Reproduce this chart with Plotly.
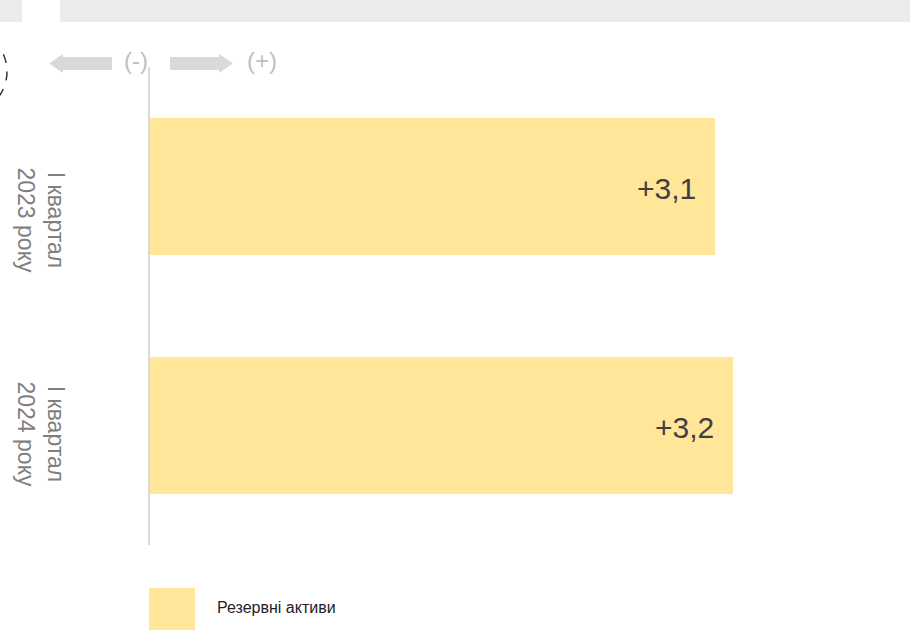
import plotly.graph_objects as go

categories = ["I квартал<br>2023 року", "I квартал<br>2024 року"]
values = [3.1, 3.2]
value_labels = ["+3,1", "+3,2"]
series_name = "Резервні активи"

BAR_COLOR = "#FFE699"
FONT = "Arial, Liberation Sans, sans-serif"

W, H = 910, 630
L, R, T, B = 150, 0, 67, 85
pw, ph = W - L - R, H - T - B


def px(x):
    return (x - L) / pw


def py(y):
    return (H - B - y) / ph


fig = go.Figure()
fig.add_trace(go.Bar(
    x=values, y=categories, orientation="h", width=0.573,
    marker=dict(color=BAR_COLOR, line=dict(width=0)),
    name=series_name, showlegend=False, hoverinfo="skip",
))

annotations = []
# value labels inside bars
for c, v, t in zip(categories, values, value_labels):
    annotations.append(dict(x=v, y=c, xref="x", yref="y", text=t, showarrow=False,
                            xanchor="right", yanchor="middle", xshift=-17, yshift=-2,
                            font=dict(family=FONT, size=30, color="#404040")))
# rotated category labels
for c, ys in zip(categories, [-33, -8]):
    annotations.append(dict(x=px(41), y=c, xref="paper", yref="y", text=c, showarrow=False,
                            textangle=90, xanchor="center", yanchor="middle", yshift=ys,
                            font=dict(family=FONT, size=23, color="#7f7f7f")))
# direction signs
annotations.append(dict(x=px(136), y=py(61), xref="paper", yref="paper", text="(-)", showarrow=False,
                        xanchor="center", yanchor="middle",
                        font=dict(family=FONT, size=24, color="#bfbfbf")))
annotations.append(dict(x=px(262), y=py(61), xref="paper", yref="paper", text="(+)", showarrow=False,
                        xanchor="center", yanchor="middle",
                        font=dict(family=FONT, size=24, color="#bfbfbf")))
# legend text
annotations.append(dict(x=px(215), y=py(607), xref="paper", yref="paper", text=series_name,
                        showarrow=False, xanchor="left", yanchor="middle",
                        font=dict(family=FONT, size=16, color="#222222")))

shapes = []
# header bands
shapes.append(dict(type="rect", xref="paper", yref="paper", x0=px(0), x1=px(22), y0=py(22), y1=py(0),
                   fillcolor="#ebebeb", line=dict(width=0), layer="below"))
shapes.append(dict(type="rect", xref="paper", yref="paper", x0=px(60), x1=px(910), y0=py(22), y1=py(0),
                   fillcolor="#ebebeb", line=dict(width=0), layer="below"))
# dashed partial circle
shapes.append(dict(type="circle", xref="paper", yref="paper", x0=px(-79), x1=px(7), y0=py(114.5), y1=py(28.5),
                   line=dict(color="#333333", width=1.5, dash="dash")))


def poly(points):
    return "M " + " L ".join(f"{px(x)},{py(y)}" for x, y in points) + " Z"


# left arrow
shapes.append(dict(type="path", xref="paper", yref="paper",
                   path=poly([(112, 57), (63, 57), (63, 54), (49, 63.5), (63, 73), (63, 70), (112, 70)]),
                   fillcolor="#d9d9d9", line=dict(width=0)))
# right arrow
shapes.append(dict(type="path", xref="paper", yref="paper",
                   path=poly([(170, 57), (219, 57), (219, 54), (233, 63.5), (219, 73), (219, 70), (170, 70)]),
                   fillcolor="#d9d9d9", line=dict(width=0)))
# legend swatch
shapes.append(dict(type="rect", xref="paper", yref="paper", x0=px(149), x1=px(195), y0=py(632), y1=py(588),
                   fillcolor=BAR_COLOR, line=dict(width=0)))

fig.update_layout(
    width=W, height=H,
    margin=dict(l=L, r=R, t=T, b=B, pad=0),
    paper_bgcolor="white", plot_bgcolor="white",
    showlegend=False,
    xaxis=dict(range=[0, pw / 182.25], visible=False, fixedrange=True),
    yaxis=dict(type="category", range=[1.5, -0.5], showticklabels=False, showgrid=False,
               showline=True, linecolor="#d9d9d9", linewidth=2, ticks="", zeroline=False,
               fixedrange=True),
    annotations=annotations,
    shapes=shapes,
    bargap=0,
)

fig.write_html("out.html", config={"displayModeBar": False},
               post_script="document.body.style.margin='0';document.body.style.overflow='hidden';")
